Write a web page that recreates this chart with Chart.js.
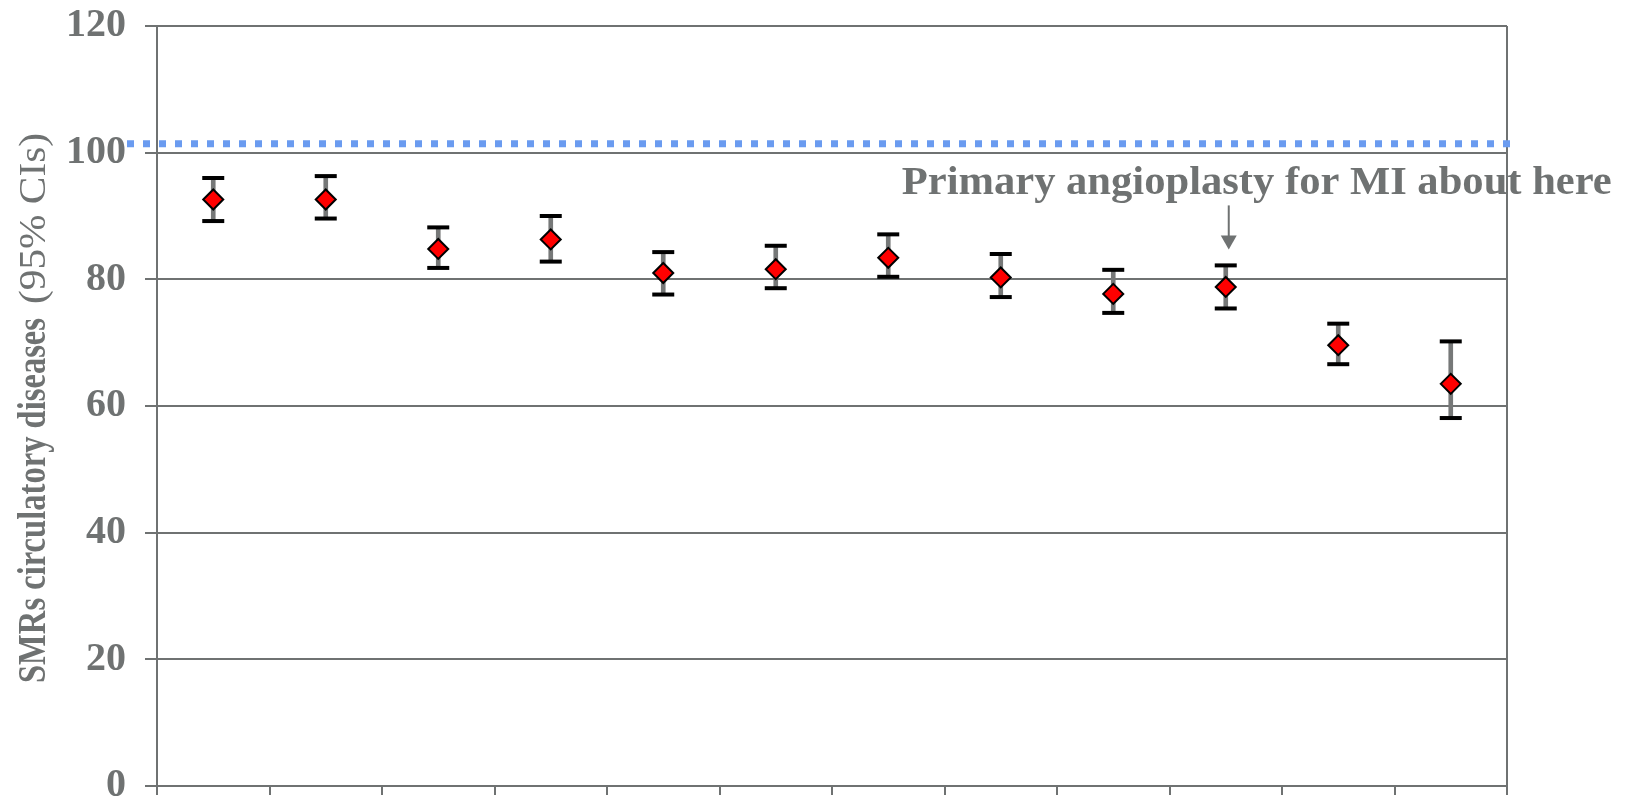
<!DOCTYPE html>
<html>
<head>
<meta charset="utf-8">
<script src="https://cdn.jsdelivr.net/npm/chart.js@4"></script>
<style>
  html, body { margin: 0; padding: 0; background: #ffffff; }
  #wrap { width: 1633px; height: 806px; }
</style>
</head>
<body>
<div id="wrap"><canvas id="chart" width="1633" height="806"></canvas></div>
<script>
// Standardised mortality ratios for circulatory diseases, by period, with 95% CIs
const periods = ['1', '2', '3', '4', '5', '6', '7', '8', '9', '10', '11', '12'];
const smr     = [92.6, 92.6, 84.8, 86.3, 81.0, 81.6, 83.4, 80.3, 77.7, 78.8, 69.6, 63.5];
const ciLower = [89.2, 89.6, 81.8, 82.8, 77.6, 78.6, 80.4, 77.2, 74.7, 75.4, 66.6, 58.1];
const ciUpper = [96.0, 96.3, 88.2, 90.0, 84.3, 85.3, 87.1, 84.0, 81.5, 82.2, 73.0, 70.2];
const yTicks  = [0, 20, 40, 60, 80, 100, 120];
const referenceLevel = 101.4;

const yTitleMain = 'SMRs circulatory diseases';
const yTitleNote = '(95% CIs)';
const annotationText = 'Primary angioplasty for MI about here';
const annotationIndex = 9;

const GREY = '#6f7272';
const SERIF = "'Liberation Serif', 'Times New Roman', serif";

// Draw a string stretched/condensed to a given length along the baseline
function drawFitted(ctx, text, font, x, y, length) {
  ctx.save();
  ctx.font = font;
  const natural = ctx.measureText(text).width;
  ctx.translate(x, y);
  ctx.scale(length / natural, 1);
  ctx.textAlign = 'left';
  ctx.textBaseline = 'alphabetic';
  ctx.fillText(text, 0, 0);
  ctx.restore();
}

// Dotted reference line across the plot
const referenceLine = {
  id: 'referenceLine',
  beforeDatasetsDraw(chart) {
    const { ctx, chartArea, scales } = chart;
    const y = scales.y.getPixelForValue(referenceLevel);
    ctx.save();
    ctx.strokeStyle = '#6a9bf0';
    ctx.lineWidth = 7;
    ctx.setLineDash([7, 9]);
    ctx.beginPath();
    ctx.moveTo(chartArea.left - 30, y);
    ctx.lineTo(chartArea.right + 4, y);
    ctx.stroke();
    ctx.restore();
  }
};

// Rotated y-axis title: bold main text followed by the CI note
const yTitle = {
  id: 'yTitle',
  afterDraw(chart) {
    const { ctx } = chart;
    ctx.save();
    ctx.fillStyle = GREY;
    ctx.translate(45, 683);
    ctx.rotate(-Math.PI / 2);
    drawFitted(ctx, yTitleMain, 'bold 40px ' + SERIF, 0, 0, 365);
    drawFitted(ctx, yTitleNote, '38px ' + SERIF, 379, 0, 171);
    ctx.restore();
  }
};

// Text note with a downward arrow pointing at one period
const angioplastyNote = {
  id: 'angioplastyNote',
  afterDatasetsDraw(chart) {
    const { ctx, scales } = chart;
    const x = scales.x.getPixelForValue(annotationIndex) + 3;
    const tip = scales.y.getPixelForValue(ciUpper[annotationIndex]) - 16;
    const top = tip - 44;
    ctx.save();
    ctx.strokeStyle = GREY;
    ctx.fillStyle = GREY;
    ctx.lineWidth = 2;
    ctx.beginPath();
    ctx.moveTo(x, top);
    ctx.lineTo(x, tip - 12);
    ctx.stroke();
    ctx.beginPath();
    ctx.moveTo(x - 8, tip - 14);
    ctx.lineTo(x + 8, tip - 14);
    ctx.lineTo(x, tip);
    ctx.closePath();
    ctx.fill();
    drawFitted(ctx, annotationText, 'bold 40px ' + SERIF, x - 327, top - 11, 710);
    ctx.restore();
  }
};

new Chart(document.getElementById('chart'), {
  type: 'bar',
  data: {
    labels: periods,
    datasets: [
      {
        type: 'line',
        label: 'SMR',
        data: smr,
        showLine: false,
        pointStyle: 'rectRot',
        pointRadius: 10,
        pointBackgroundColor: '#ff0000',
        pointBorderColor: '#000000',
        pointBorderWidth: 2,
        order: 0
      },
      {
        type: 'line',
        label: 'Upper 95% CI',
        data: ciUpper,
        showLine: false,
        pointStyle: 'line',
        pointRadius: 11,
        pointBorderWidth: 4,
        pointBorderColor: '#000000',
        borderColor: '#000000',
        order: 1
      },
      {
        type: 'line',
        label: 'Lower 95% CI',
        data: ciLower,
        showLine: false,
        pointStyle: 'line',
        pointRadius: 11,
        pointBorderWidth: 4,
        pointBorderColor: '#000000',
        borderColor: '#000000',
        order: 1
      },
      {
        type: 'bar',
        label: '95% CI',
        data: ciLower.map((lo, i) => [lo, ciUpper[i]]),
        backgroundColor: '#767878',
        borderWidth: 0,
        barThickness: 4,
        order: 3
      }
    ]
  },
  options: {
    responsive: false,
    animation: false,
    events: [],
    devicePixelRatio: 1,
    layout: { padding: { left: 0, right: 126, top: 26, bottom: 0 } },
    plugins: {
      legend: { display: false },
      tooltip: { enabled: false },
      title: { display: false }
    },
    scales: {
      x: {
        offset: true,
        afterFit(scale) {
          scale.height = 20;
          scale.paddingLeft = 0;
          scale.paddingRight = 0;
        },
        ticks: { display: false },
        grid: {
          offset: true,
          drawOnChartArea: true,
          color: (c) => (c.type === 'scale' ? GREY : 'transparent'),
          lineWidth: 2,
          tickColor: GREY,
          tickLength: 9,
          tickWidth: 2
        },
        border: { display: true, color: GREY, width: 2 }
      },
      y: {
        min: 0,
        max: 120,
        afterFit(scale) {
          scale.width = 157;
          scale.paddingTop = 0;
          scale.paddingBottom = 0;
        },
        afterBuildTicks(scale) { scale.ticks = yTicks.map(v => ({ value: v })); },
        ticks: {
          padding: 19,
          color: GREY,
          font: { family: SERIF, size: 40, weight: 'bold' }
        },
        grid: {
          color: GREY,
          lineWidth: 2,
          tickColor: GREY,
          tickLength: 12,
          tickWidth: 2
        },
        border: { display: true, color: GREY, width: 2 }
      }
    }
  },
  plugins: [referenceLine, yTitle, angioplastyNote]
});
</script>
</body>
</html>
